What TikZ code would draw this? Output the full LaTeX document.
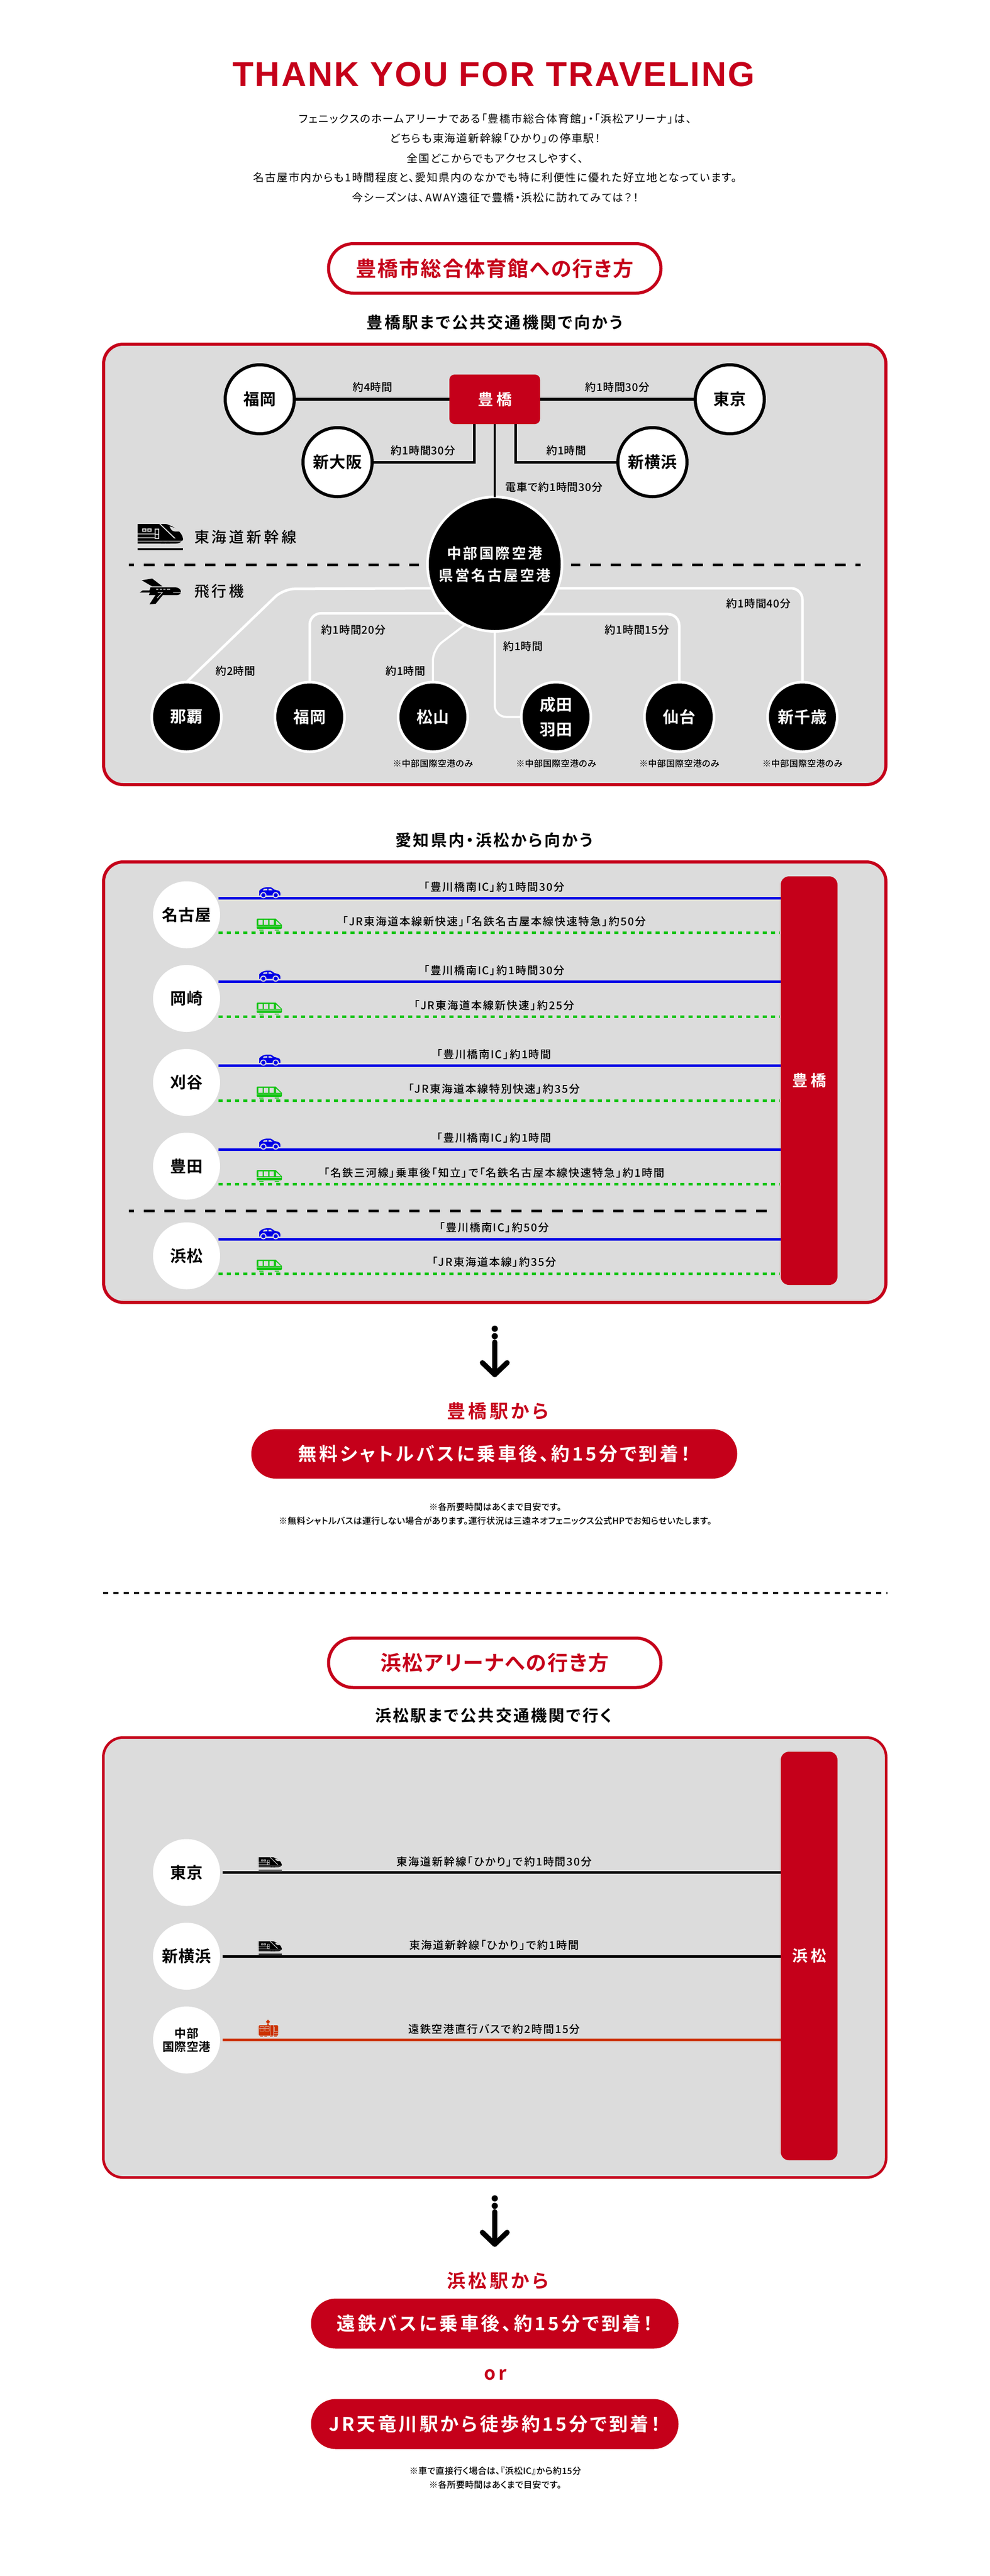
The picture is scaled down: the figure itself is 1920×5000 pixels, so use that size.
\documentclass[tikz,border=0pt]{standalone}
\usepackage{fontspec}
\setmainfont{Liberation Sans}
\newfontfamily\jpr[RawFeature=+palt]{Noto Sans CJK JP}
\newfontfamily\jpm[RawFeature=+palt]{Noto Sans CJK JP Medium}
\newfontfamily\jpb[RawFeature=+palt]{Noto Sans CJK JP Bold}
\newfontfamily\titlefont[LetterSpace=4.3]{Liberation Sans Bold}
\definecolor{brand}{HTML}{C5001A}
\definecolor{panelgray}{HTML}{DCDCDC}
\definecolor{carblue}{HTML}{0000E6}
\definecolor{railgreen}{HTML}{12C412}
\definecolor{busorange}{HTML}{CC3300}
\newcommand{\fs}[3]{#1\fontsize{#2}{#2}\selectfont\addfontfeature{LetterSpace=#3}}
\tikzset{
  txt/.style={inner sep=0pt,outer sep=0pt,align=center},
  para/.style={txt,font=\fs{\jpr}{21}{8.5}},
  lab/.style={txt,font=\fs{\jpm}{21}{4}},
  rowlab/.style={txt,font=\fs{\jpm}{21}{9.5}},
  note/.style={txt,font=\fs{\jpm}{17}{2.5}},
  subhead/.style={txt,font=\fs{\jpb}{31}{10.5}},
  legend/.style={txt,font=\fs{\jpm}{29}{17},anchor=west},
  pillhead/.style={rectangle,rounded corners=48pt,draw=brand,fill=white,line width=6pt,inner sep=0pt,outer sep=0pt,text=brand,font=\fs{\jpb}{40}{5.5}},
  goal/.style={txt,text=brand,font=\fs{\jpb}{36}{15}},
  redpill/.style={rectangle,rounded corners=48pt,fill=brand,text=white,inner sep=0pt,outer sep=0pt,font=\fs{\jpb}{36}{12.7}},
  panel/.style={rectangle,rounded corners=38pt,draw=brand,fill=panelgray,line width=6pt,inner sep=0pt,outer sep=0pt},
  bar/.style={rectangle,rounded corners=16pt,fill=brand,text=white,inner sep=0pt,outer sep=0pt,minimum width=110pt,font=\fs{\jpb}{30}{0}},
  whitecirc/.style={circle,draw=black,fill=white,line width=6pt,minimum size=134pt,inner sep=0pt,outer sep=0pt,font=\fs{\jpb}{31}{4}},
  blackcirc/.style={circle,draw=white,fill=black,text=white,line width=5pt,minimum size=135pt,inner sep=0pt,outer sep=0pt,align=center,font=\fs{\jpb}{31}{4}},
  rowcirc/.style={circle,fill=white,minimum size=130pt,inner sep=0pt,outer sep=0pt,align=center,font=\fs{\jpb}{31}{4}},
  hub/.style={rectangle,rounded corners=10pt,fill=brand,text=white,minimum width=176pt,minimum height=96pt,inner sep=0pt,outer sep=0pt,font=\fs{\jpb}{30}{0}},
  blackline/.style={draw=black,line width=5.5pt},
  whiteline/.style={draw=white,line width=5pt,rounded corners=22pt},
  carline/.style={draw=carblue,line width=5pt},
  trainline/.style={draw=railgreen,line width=5pt,dash pattern=on 8pt off 8pt},
  longdash/.style={draw=black,line width=5pt,dash pattern=on 20.6pt off 19pt,dash phase=10.6pt},
}
\newcommand{\iconShin}[3]{% x y scale
  \begin{scope}[shift={(#1,#2)},scale=#3]
    \fill[black] (0,0) -- (55,0) .. controls (72,5) and (86,16) .. (88,28) -- (88,31) .. controls (84,36) and (80,38) .. (74,38) -- (0,38) -- cycle;
    \fill[panelgray] (42,0) -- (44.5,0) -- (74,28) -- (71,28) -- cycle;
    \fill[panelgray] (62,5) .. controls (64,9) and (66,14) .. (72,14.5) -- (82,14.5) .. controls (76,9) and (70,6) .. (62,5) -- cycle;
    \fill[panelgray] (9,8.5) rectangle (17,15) (19,8.5) rectangle (27,15);
    \fill[black] (11,10.5) rectangle (15,13) (21,10.5) rectangle (25,13);
    \fill[panelgray] (33,9) rectangle (42,29);
    \fill[black] (35,11) rectangle (40,19) (35,21) rectangle (40,27);
    \fill[panelgray] (0,18.5) rectangle (33,20) (0,26) rectangle (33,27.5) (0,32.5) rectangle (88,34);
    \fill[black] (45,38) arc[start angle=180,end angle=360,radius=4] -- cycle;
    \fill[black] (55,38) arc[start angle=180,end angle=360,radius=4] -- cycle;
    \fill[black] (0,46.5) rectangle (88,50.5);
  \end{scope}}
\newcommand{\iconPlane}[2]{%
  \begin{scope}[shift={(#1,#2)}]
    \fill[black] (4,3.3) -- (24.3,0) -- (44,15) -- (24,15) -- cycle;
    \fill[black] (19,50) -- (31,49) -- (49,27) -- (34,27) -- cycle;
    \fill[black] (21,17) -- (69,17) .. controls (75,17) and (80,21) .. (80,25) .. controls (80,29) and (77,32) .. (73,32) -- (18,32) -- (20,27) -- (0,27) -- (6,23) -- (19,23) -- cycle;
    \fill[panelgray] (32,20) rectangle (36,21.5) (39,20) rectangle (43,21.5) (46,20) rectangle (50,21.5) (53,20) rectangle (59,21.5);
    \fill[panelgray] (65,26.5) rectangle (80,27.8);
    \draw[panelgray,line width=1.2pt] (35,27) -- (44,27) -- (34,38);
  \end{scope}}
\newcommand{\iconCar}[2]{%
  \begin{scope}[shift={(#1,#2)}]
    \fill[carblue] (0,16) -- (0,7) .. controls (3,3) and (9,0) .. (15,0) -- (21,0) .. controls (24,0) and (27,3) .. (29,4.5) -- (38,7) .. controls (40,8) and (41,10) .. (41,12) -- (41,16) -- cycle;
    \fill[panelgray] (8,15.5) circle[radius=6] (32,15.5) circle[radius=6];
    \fill[carblue] (8,15.5) circle[radius=4] (32,15.5) circle[radius=4];
    \fill[panelgray] (9,3.5) -- (15.5,3) -- (15.5,6) -- (7,6.5) -- cycle (18,3) -- (22,3) -- (26,6) -- (18,6) -- cycle;
  \end{scope}}
\newcommand{\iconTrain}[2]{%
  \begin{scope}[shift={(#1,#2)}]
    \fill[railgreen] (0,2) .. controls (0,1) and (1,0) .. (2,0) -- (37,0) -- (49,12) -- (49,18) .. controls (49,19) and (48,20) .. (47,20) -- (2,20) .. controls (1,20) and (0,19) .. (0,18) -- cycle;
    \fill[panelgray] (3.3,2.5) rectangle (11.7,12) (14,2.5) rectangle (22.3,12) (25,2.5) rectangle (33.3,12);
    \fill[panelgray] (37.7,4) -- (46.7,12) -- (37.7,12) -- cycle;
    \fill[panelgray] (0,14) rectangle (48,15.3);
    \fill[railgreen] (5,21.7) rectangle (13.3,23.2) (35,21.7) rectangle (43.3,23.2);
  \end{scope}}
\newcommand{\iconTram}[2]{%
  \begin{scope}[shift={(#1,#2)}]
    \fill[busorange] (18,0) -- (22,4.3) -- (18,8.6) -- (14,4.3) -- cycle;
    \fill[busorange] (16,8.6) rectangle (20,11);
    \fill[busorange,rounded corners=2pt] (0,11) rectangle (37.7,31);
    \draw[panelgray!70!busorange,line width=.8pt] (2,13.5) rectangle (10,22) (12,13.5) rectangle (20,22) (22,11) -- (22,31) (28,11) -- (28,31) (1,17) -- (21,17) (30,14) -- (30,23) -- (37,23) (30,27) -- (37.7,27);
    \fill[busorange] (3,31.5) rectangle (8,33) (11,31.5) rectangle (16,33) (22,31.5) rectangle (27,33) (30,31.5) rectangle (35,33);
  \end{scope}}
\newcommand{\ptrDown}[1]{%
  \begin{scope}[shift={(960,#1)}]
    \fill[black] (0,0) circle[radius=6] (0,14.5) circle[radius=6];
    \draw[black,line width=10pt,line cap=round,line join=round] (0,26) -- (0,89);
    \draw[black,line width=10pt,line cap=round,line join=round] (-24,66) -- (0,89) -- (24,66);
  \end{scope}}
\begin{document}
\begin{tikzpicture}[x=1pt,y=-1pt]
\useasboundingbox (0,0) rectangle (1920,5000);
\fill[white] (0,0) rectangle (1920,5000);

% ---------- header
\node[txt,text=brand,font=\titlefont\fontsize{67}{67}\selectfont] (title) at (958,144) {THANK YOU FOR TRAVELING};
\node[para] (p1) at (961,231) {フェニックスのホームアリーナである「豊橋市総合体育館」・「浜松アリーナ」は、};
\node[para] (p2) at (961,269) {どちらも東海道新幹線「ひかり」の停車駅！};
\node[para] (p3) at (961,307) {全国どこからでもアクセスしやすく、};
\node[para] (p4) at (961,345) {名古屋市内からも1時間程度と、愛知県内のなかでも特に利便性に優れた好立地となっています。};
\node[para] (p5) at (961,383) {今シーズンは、AWAY遠征で豊橋・浜松に訪れてみては？！};

\node[pillhead,minimum width=645pt,minimum height=96pt] (head1) at (960,521) {豊橋市総合体育館への行き方};
\node[subhead] (sub1) at (960,626) {豊橋駅まで公共交通機関で向かう};

% ---------- panel 1
\node[panel,minimum width=1518pt,minimum height=855pt] (panelA) at (960,1095.5) {};
\node[hub] (toy) at (960,775) {豊\hspace{6pt}橋};
\node[whitecirc] (fuk) at (504,775) {福岡};
\node[whitecirc] (tok) at (1416,775) {東京};
\node[whitecirc] (osk) at (655,897) {新大阪};
\node[whitecirc] (yok) at (1266,897) {新横浜};
\node[circle,draw=white,fill=black,text=white,line width=5pt,minimum size=261pt,inner sep=0pt,outer sep=0pt,align=center,font=\fs{\jpb}{28}{12.5}] (air) at (960,1095) {中部国際空港\\[15pt]県営名古屋空港};
\draw[blackline] (fuk) -- (toy);
\draw[blackline] (toy) -- (tok);
\draw[blackline,line width=5pt] (osk.east) -| ([xshift=-40pt]toy.south);
\draw[blackline,line width=5pt] (yok.west) -| ([xshift=40pt]toy.south);
\draw[blackline,line width=4pt] (toy.south) -- (air.north);
\node[lab] (l1) at (723,752) {約4時間};
\node[lab] (l2) at (1198,752) {約1時間30分};
\node[lab] (l3) at (821,875) {約1時間30分};
\node[lab] (l4) at (1099,875) {約1時間};
\node[lab] (l5) at (1075,946) {電車で約1時間30分};

\iconShin{267}{1017}{1}
\node[legend] (leg1) at (377,1042) {東海道新幹線};
\node[legend] (leg2) at (377,1148) {飛行機};
\iconPlane{271}{1123}
\coordinate (dashA1) at (250,1096);
\coordinate (dashA2) at (1670,1096);
\draw[longdash] (dashA1) -- ([xshift=-17pt]air.west |- dashA1);
\draw[longdash] (dashA2) -- ([xshift=17pt]air.east |- dashA2);

\node[blackcirc] (nah) at (362,1391.5) {那覇};
\node[blackcirc] (fuk2) at (601,1391.5) {福岡};
\node[blackcirc] (mat) at (840,1391.5) {松山};
\node[blackcirc,font=\fs{\jpb}{31}{4}] (nar) at (1079,1391.5) {成田\\[17pt]羽田};
\node[blackcirc] (sen) at (1318,1391.5) {仙台};
\node[blackcirc] (chi) at (1557,1391.5) {新千歳};
\coordinate (bendA) at (550,1143);
\coordinate (bendB) at (840,1260);
\draw[whiteline] (air.201) -- (bendA) -- (nah.north);
\draw[whiteline] (air.339) -| (chi.north);
\draw[whiteline] (air.227.5) -| (fuk2.north);
\draw[whiteline] (air.312.5) -| (sen.north);
\draw[whiteline,line width=4pt] (air.244) -- (bendB) -- (mat.north);
\draw[whiteline,line width=4pt] (air.south) |- (nar.west);
\node[lab] (l6) at (457,1303) {約2時間};
\node[lab] (l7) at (686,1223) {約1時間20分};
\node[lab] (l8) at (787,1303) {約1時間};
\node[lab] (l9) at (1015,1255) {約1時間};
\node[lab] (l10) at (1236,1223) {約1時間15分};
\node[lab] (l11) at (1472,1172) {約1時間40分};
\node[note] (n1) at (840,1482) {※中部国際空港のみ};
\node[note] (n2) at (1079,1482) {※中部国際空港のみ};
\node[note] (n3) at (1318,1482) {※中部国際空港のみ};
\node[note] (n4) at (1557,1482) {※中部国際空港のみ};

% ---------- panel 2
\node[subhead] (sub2) at (959,1631) {愛知県内・浜松から向かう};
\node[panel,minimum width=1518pt,minimum height=855pt] (panelB) at (960,2100.5) {};
\node[bar,minimum height=793pt] (barA) at (1570,2097.5) {\raisebox{-3.5pt}{豊\hspace{6pt}橋}};
\node[rowcirc] (nag) at (362,1775.5) {名古屋};
\node[rowcirc] (oka) at (362,1938) {岡崎};
\node[rowcirc] (kar) at (362,2101) {刈谷};
\node[rowcirc] (toyo) at (362,2263.5) {豊田};
\node[rowcirc] (ham) at (362,2437.5) {浜松};
\foreach \nm/\ya/\yb in {nag/1743/1810,oka/1905/1973,kar/2068/2136,toyo/2231/2298,ham/2405/2472}{
  \coordinate (\nm C) at (424,\ya);
  \coordinate (\nm T) at (424,\yb);
  \draw[carline] (\nm C) -- (\nm C -| barA.west);
  \draw[trainline] (\nm T) -- ([xshift=-2pt]\nm T -| barA.west);
  \pgfmathsetmacro{\ycar}{\ya-21}
  \pgfmathsetmacro{\ytrn}{\yb-27}
  \iconCar{503}{\ycar}
  \iconTrain{498}{\ytrn}
}
\node[rowlab] (r1) at (959,1722) {「豊川橋南IC」約1時間30分};
\node[rowlab] (r2) at (959,1789) {「JR東海道本線新快速」「名鉄名古屋本線快速特急」約50分};
\node[rowlab] (r3) at (959,1884) {「豊川橋南IC」約1時間30分};
\node[rowlab] (r4) at (959,1952) {「JR東海道本線新快速」約25分};
\node[rowlab] (r5) at (959,2047) {「豊川橋南IC」約1時間};
\node[rowlab] (r6) at (959,2114) {「JR東海道本線特別快速」約35分};
\node[rowlab] (r7) at (959,2209) {「豊川橋南IC」約1時間};
\node[rowlab] (r8) at (959,2277) {「名鉄三河線」乗車後「知立」で「名鉄名古屋本線快速特急」約1時間};
\node[rowlab] (r9) at (959,2383) {「豊川橋南IC」約50分};
\node[rowlab] (r10) at (959,2450) {「JR東海道本線」約35分};
\coordinate (dashB1) at (250,2350);
\draw[longdash] (dashB1) -- ([xshift=-12pt]dashB1 -| barA.west);

% ---------- arrival 1
\ptrDown{2579}
\node[goal] (g1) at (966,2739) {豊橋駅から};
\node[redpill,minimum width=943pt,minimum height=96pt] (pillA) at (959,2822) {無料シャトルバスに乗車後、約15分で到着！};
\node[note] (n5) at (961,2925) {※各所要時間はあくまで目安です。};
\node[note] (n6) at (961,2952) {※無料シャトルバスは運行しない場合があります。運行状況は三遠ネオフェニックス公式HPでお知らせいたします。};

\coordinate (sepL) at (200,3092);
\coordinate (sepR) at (1722,3092);
\draw[black,line width=4pt,dash pattern=on 10pt off 10pt] (sepL) -- (sepR);

% ---------- panel 3
\node[pillhead,minimum width=645pt,minimum height=96pt] (head2) at (960,3227.5) {浜松アリーナへの行き方};
\node[subhead] (sub3) at (958,3330) {浜松駅まで公共交通機関で行く};
\node[panel,line width=5pt,minimum width=1519pt,minimum height=854pt] (panelC) at (960,3799.5) {};
\node[bar,minimum height=793pt] (barB) at (1570,3796.5) {\raisebox{-3.5pt}{浜\hspace{6pt}松}};
\node[rowcirc] (tok3) at (362,3634.5) {東京};
\node[rowcirc] (yok3) at (362,3797) {新横浜};
\node[rowcirc,font=\fs{\jpb}{23}{2}] (cen3) at (362,3959.5) {中部\\[3pt]国際空港};
\draw[draw=black,line width=5pt] ([xshift=5pt]tok3.east) -- (tok3.east -| barB.west);
\draw[draw=black,line width=5pt] ([xshift=5pt]yok3.east) -- (yok3.east -| barB.west);
\draw[draw=busorange,line width=5pt] ([xshift=5pt]cen3.east) -- (cen3.east -| barB.west);
\iconShin{502}{3605}{0.51}
\iconShin{502}{3768}{0.51}
\iconTram{502}{3920}
\node[rowlab] (s1) at (959,3613) {東海道新幹線「ひかり」で約1時間30分};
\node[rowlab] (s2) at (959,3775) {東海道新幹線「ひかり」で約1時間};
\node[rowlab] (s3) at (959,3938) {遠鉄空港直行バスで約2時間15分};

% ---------- arrival 2
\ptrDown{4267}
\node[goal] (g2) at (966,4427) {浜松駅から};
\node[redpill,minimum width=713pt,minimum height=97pt] (pillB) at (960,4510) {遠鉄バスに乗車後、約15分で到着！};
\node[goal] (orw) at (961,4609) {or};
\node[redpill,minimum width=713pt,minimum height=97pt] (pillC) at (960,4705) {JR天竜川駅から徒歩約15分で到着！};
\node[note] (n7) at (961,4796) {※車で直接行く場合は、『浜松IC』から約15分};
\node[note] (n8) at (961,4823) {※各所要時間はあくまで目安です。};
\end{tikzpicture}
\end{document}
